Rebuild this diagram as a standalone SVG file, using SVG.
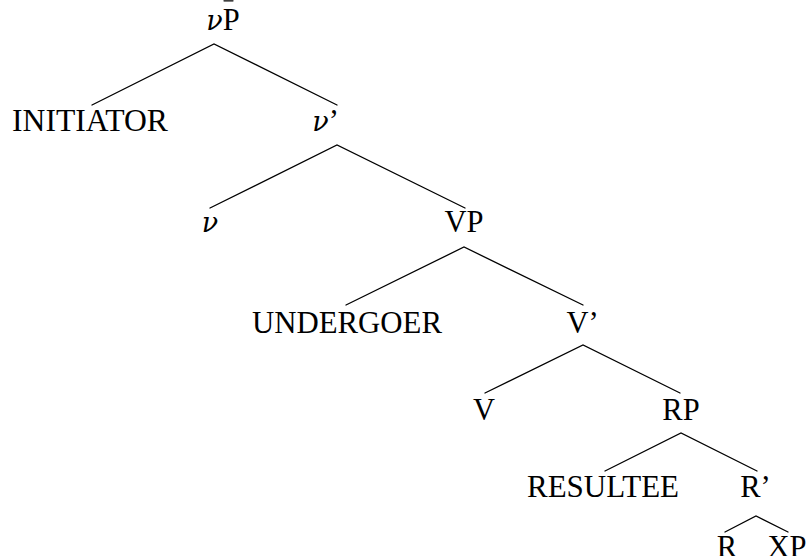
<svg xmlns="http://www.w3.org/2000/svg" width="807" height="556" viewBox="0 0 807 556">
  <style>
    text { font-family: "Liberation Serif", "Times New Roman", serif; font-size: 30.5px; fill: #000; text-anchor: middle; }
    .nu { font-family: "DejaVu Serif", "Liberation Serif", serif; font-style: italic; font-size: 27px; }
    .edge { stroke: #000; stroke-width: 1.3; fill: none; stroke-linecap: round; }
  </style>
  <rect width="807" height="556" fill="#fff"/>

  <!-- tree branches -->
  <g id="connectors">
    <path class="edge" d="M224 0.8 L233 0.8"/>
    <path class="edge" d="M92 105 L214 44 L337 105"/>
    <path class="edge" d="M210 208 L337 145 L465 208"/>
    <path class="edge" d="M346 305 L464 247 L583 305"/>
    <path class="edge" d="M485 393 L583 345 L680 393"/>
    <path class="edge" d="M605 471 L681 433 L757 471"/>
    <path class="edge" d="M725 532 L756 516 L788 532"/>
  </g>

  <g id="node-vP"><text x="223" y="30"><tspan class="nu">ν</tspan>P</text></g>
  <g id="node-initiator"><text x="90" y="131" textLength="156" lengthAdjust="spacingAndGlyphs">INITIATOR</text></g>
  <g id="node-vbar"><text x="325.5" y="131"><tspan class="nu">ν</tspan>’</text></g>
  <g id="node-v"><text class="nu" x="210" y="232">ν</text></g>
  <g id="node-VP"><text x="464" y="232">VP</text></g>
  <g id="node-undergoer"><text x="347" y="333" textLength="190" lengthAdjust="spacingAndGlyphs">UNDERGOER</text></g>
  <g id="node-Vbar"><text x="582.5" y="333">V’</text></g>
  <g id="node-V"><text x="484" y="420">V</text></g>
  <g id="node-RP"><text x="681" y="420">RP</text></g>
  <g id="node-resultee"><text x="603" y="497" textLength="152" lengthAdjust="spacingAndGlyphs">RESULTEE</text></g>
  <g id="node-Rbar"><text x="755.5" y="497">R’</text></g>
  <g id="node-R"><text x="727" y="557">R</text></g>
  <g id="node-XP"><text x="787" y="557">XP</text></g>
</svg>
